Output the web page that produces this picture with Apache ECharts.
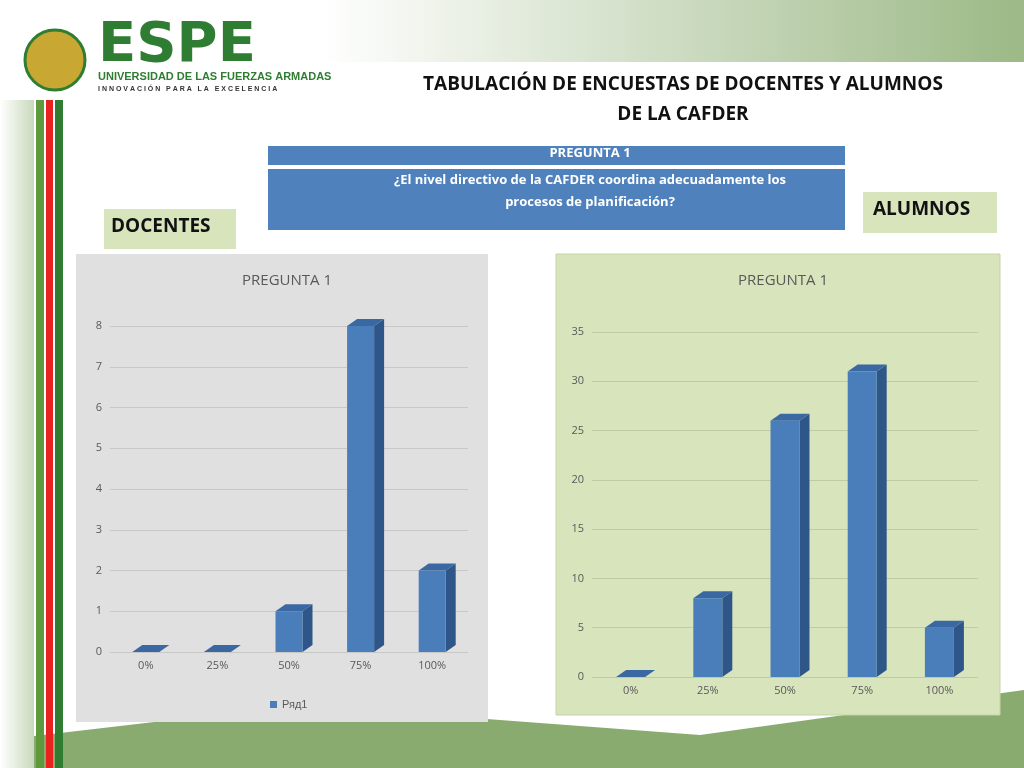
<!DOCTYPE html>
<html><head><meta charset="utf-8">
<script src="https://cdn.jsdelivr.net/npm/echarts@6/dist/echarts.min.js"></script>
<style>html,body{margin:0;padding:0;background:#fff}#c{width:1024px;height:768px}</style>
</head><body><div id="c"></div>
<script>
var categories = ['0%', '25%', '50%', '75%', '100%'];
var docentes = [0, 0, 1, 8, 2];
var alumnos = [0, 8, 26, 31, 5];

var chart = echarts.init(document.getElementById('c'));

// draw a 3d-looking bar through the axis coordinates
function bar3d(barW, depth) {
  return function (params, api) {
    var base = api.coord([api.value(0), 0]);
    var top = api.coord([api.value(0), api.value(1)]);
    var x0 = base[0] - barW / 2, x1 = base[0] + barW / 2;
    var y0 = top[1], y1 = base[1];
    var d = depth;
    return {
      type: 'group',
      children: [
        { type: 'polygon', shape: { points: [[x1, y0], [x1 + d, y0 - d * 0.7], [x1 + d, y1 - d * 0.7], [x1, y1]] }, style: { fill: '#2f5688' } },
        { type: 'polygon', shape: { points: [[x0, y0], [x0 + d, y0 - d * 0.7], [x1 + d, y0 - d * 0.7], [x1, y0]] }, style: { fill: '#3a68a3' } },
        { type: 'rect', shape: { x: x0, y: y0, width: barW, height: y1 - y0 }, style: { fill: '#4a7ebb' } }
      ]
    };
  };
}

var axisLbl = { color: '#595959', fontSize: 11, fontFamily: 'Open Sans' };

chart.setOption({
  animation: false,
  graphic: [
    { type: 'rect', z: -10, shape: { x: 320, y: 0, width: 704, height: 62 }, style: { fill: new echarts.graphic.LinearGradient(0, 0, 1, 0, [{ offset: 0, color: '#ffffff' }, { offset: 1, color: '#9cb986' }]) } },
    { type: 'polygon', z: -10, shape: { points: [[0, 768], [0, 740], [300, 705], [700, 735], [1024, 690], [1024, 768]] }, style: { fill: '#8aab70' } },
    { type: 'rect', z: -5, shape: { x: 0, y: 100, width: 34, height: 668 }, style: { fill: new echarts.graphic.LinearGradient(0, 0, 1, 0, [{ offset: 0, color: '#ffffff' }, { offset: 1, color: '#c9d9bc' }]) } },
    { type: 'rect', z: -5, shape: { x: 36, y: 100, width: 8, height: 668 }, style: { fill: '#5e9a3c' } },
    { type: 'rect', z: -5, shape: { x: 46, y: 100, width: 7, height: 668 }, style: { fill: '#e8231f' } },
    { type: 'rect', z: -5, shape: { x: 55, y: 100, width: 8, height: 668 }, style: { fill: '#2e7d32' } },
    { type: 'circle', shape: { cx: 55, cy: 60, r: 30 }, style: { fill: '#c8a832', stroke: '#2e7d32', lineWidth: 3 } },
    { type: 'text', x: 98, y: 18, style: { text: 'ESPE', font: 'bold 56px "DejaVu Sans"', fill: '#2e7d32' } },
    { type: 'text', x: 98, y: 71, style: { text: 'UNIVERSIDAD DE LAS FUERZAS ARMADAS', font: 'bold 11px "Liberation Sans"', fill: '#2e7d32' } },
    { type: 'text', x: 98, y: 86, style: { text: 'I N N O V A C I Ó N   P A R A   L A   E X C E L E N C I A', font: 'bold 7px "Liberation Sans"', fill: '#333' } },
    { type: 'text', x: 683, y: 70, style: { text: 'TABULACIÓN DE ENCUESTAS DE DOCENTES Y ALUMNOS\nDE LA CAFDER', font: 'bold 19px "Open Sans"', fill: '#111', align: 'center', lineHeight: 30 } },
    { type: 'rect', shape: { x: 268, y: 146, width: 577, height: 19 }, style: { fill: '#4f81bd' } },
    { type: 'text', x: 590, y: 147, style: { text: 'PREGUNTA 1', font: 'bold 13px "Open Sans"', fill: '#fff', align: 'center' } },
    { type: 'rect', shape: { x: 268, y: 169, width: 577, height: 61 }, style: { fill: '#4f81bd' } },
    { type: 'text', x: 590, y: 169, style: { text: '¿El nivel directivo de la CAFDER coordina adecuadamente los\nprocesos de planificación?', font: 'bold 13px "Open Sans"', fill: '#fff', align: 'center', lineHeight: 22 } },
    { type: 'rect', shape: { x: 104, y: 209, width: 132, height: 40 }, style: { fill: '#d8e4bc' } },
    { type: 'text', x: 111, y: 217, style: { text: 'DOCENTES', font: 'bold 19px "Open Sans"', fill: '#111' } },
    { type: 'rect', shape: { x: 863, y: 192, width: 134, height: 41 }, style: { fill: '#d8e4bc' } },
    { type: 'text', x: 873, y: 200, style: { text: 'ALUMNOS', font: 'bold 19px "Open Sans"', fill: '#111' } },
    { type: 'rect', z: -1, shape: { x: 76, y: 254, width: 412, height: 468 }, style: { fill: '#e0e0e0' } },
    { type: 'rect', z: -1, shape: { x: 556, y: 254, width: 444, height: 461 }, style: { fill: '#d8e4bc', stroke: '#c5d3a8' } }
  ],
  title: [
    { text: 'PREGUNTA 1', left: 282, top: 268, textAlign: 'center', textStyle: { color: '#595959', fontSize: 15, fontWeight: 'normal', fontFamily: 'Open Sans' } },
    { text: 'PREGUNTA 1', left: 778, top: 268, textAlign: 'center', textStyle: { color: '#595959', fontSize: 15, fontWeight: 'normal', fontFamily: 'Open Sans' } }
  ],
  legend: {
    left: 265, top: 694, itemWidth: 7, itemHeight: 7, icon: 'rect',
    data: [{ name: 'Ряд1', itemStyle: { color: '#4a7ebb' } }],
    textStyle: { color: '#595959', fontSize: 11 }
  },
  grid: [
    { left: 110, top: 326, width: 358, height: 326 },
    { left: 592, top: 332, width: 386, height: 345 }
  ],
  xAxis: [
    { gridIndex: 0, type: 'category', data: categories, axisLine: { show: false }, axisTick: { show: false }, axisLabel: axisLbl },
    { gridIndex: 1, type: 'category', data: categories, axisLine: { show: false }, axisTick: { show: false }, axisLabel: axisLbl }
  ],
  yAxis: [
    { gridIndex: 0, min: 0, max: 8, interval: 1, axisLine: { show: false }, axisLabel: axisLbl, splitLine: { lineStyle: { color: '#c8c8c8' } } },
    { gridIndex: 1, min: 0, max: 35, interval: 5, axisLine: { show: false }, axisLabel: axisLbl, splitLine: { lineStyle: { color: '#bfcba6' } } }
  ],
  series: [
    { name: 'Ряд1', type: 'custom', xAxisIndex: 0, yAxisIndex: 0, renderItem: bar3d(27, 10), data: docentes.map(function (v, i) { return [i, v]; }) },
    { name: 'alumnos', type: 'custom', xAxisIndex: 1, yAxisIndex: 1, renderItem: bar3d(29, 10), data: alumnos.map(function (v, i) { return [i, v]; }) }
  ]
});
</script></body></html>
